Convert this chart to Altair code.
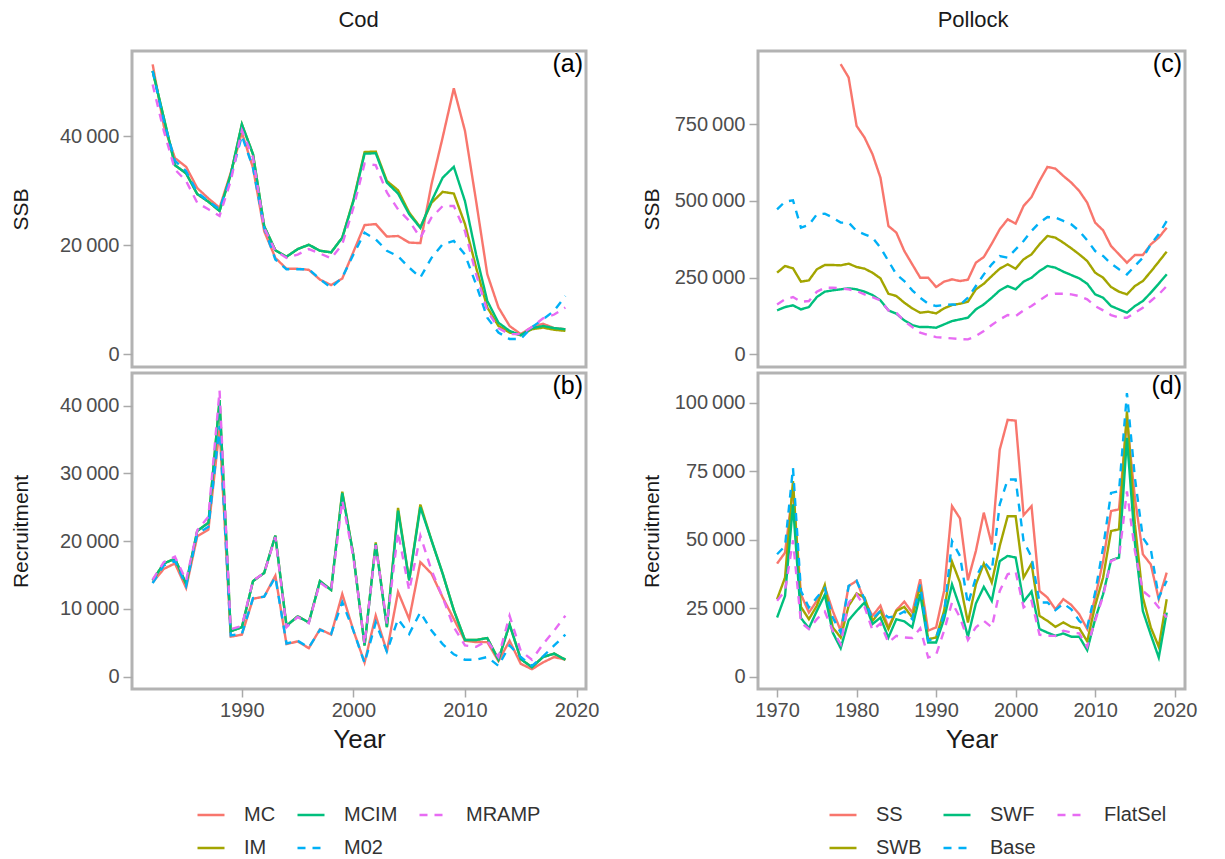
import altair as alt
import pandas as pd

# ---------------- data ----------------
cod_years = list(range(1982, 2020))
pol_years = list(range(1970, 2020))
pol_ss_ssb_years = list(range(1978, 2020))

cod_models = ["MC", "IM", "MCIM", "M02", "MRAMP"]
pol_models = ["SS", "SWB", "SWF", "Base", "FlatSel"]

# Cod SSB
cod_ssb_MC = [53200, 41900, 36000, 34400, 30500, 28600, 26900, 33300, 40700, 34200, 22600, 17700, 15700, 15700, 15500, 13700, 12700, 13900, 18800, 23700, 23900, 21600, 21700, 20500, 20400, 31200, 39800, 48800, 41000, 28100, 14700, 8600, 5200, 3700, 5000, 5600, 4800, 4600]
cod_ssb_IM = [52000, 43400, 34700, 33200, 29400, 28000, 26300, 33000, 42200, 36700, 23500, 19100, 17900, 19300, 20100, 19000, 18700, 21400, 28300, 37100, 37200, 31800, 30100, 26000, 23300, 27800, 29800, 29500, 23900, 15900, 8600, 5200, 4000, 3500, 4600, 4900, 4500, 4300]
cod_ssb_MCIM = [52000, 43400, 34700, 33200, 29400, 28000, 26300, 33000, 42200, 36700, 23500, 19100, 17900, 19300, 20100, 19000, 18700, 21400, 28100, 36800, 36900, 31500, 29500, 25700, 23200, 28100, 32400, 34400, 28100, 18300, 9800, 5800, 4300, 3500, 4800, 5200, 4800, 4600]
cod_ssb_M02 = [52000, 42800, 35500, 33600, 29700, 28100, 26600, 32400, 40100, 34200, 23200, 17400, 15600, 15600, 15600, 13800, 12200, 14100, 18300, 22300, 21100, 19000, 18000, 15900, 14100, 17700, 20200, 20800, 18300, 12800, 6700, 4000, 2800, 2800, 5000, 6400, 8000, 10700]
cod_ssb_MRAMP = [49500, 41000, 33900, 31800, 27800, 26600, 25400, 31800, 41100, 36100, 23200, 19000, 17700, 18300, 19300, 18500, 17600, 20200, 26900, 35000, 34700, 29700, 26600, 24500, 21400, 25100, 27200, 27200, 22600, 14700, 8000, 4800, 3700, 3700, 5000, 6600, 7300, 8600]

# Cod recruitment
cod_rec_MC = [13900, 15900, 16700, 13100, 20700, 21700, 36600, 5900, 6200, 11500, 11800, 14900, 4800, 5200, 4200, 7000, 6200, 12200, 6800, 2100, 9000, 3700, 12500, 8500, 16900, 15200, 11700, 8500, 5300, 5100, 5100, 2300, 5300, 1900, 1100, 2100, 2900, 2500]
cod_rec_IM = [14200, 16700, 17400, 13700, 21500, 22700, 40800, 6700, 7300, 14100, 15300, 20800, 7500, 8900, 8000, 14100, 12800, 27300, 17900, 4600, 19800, 7300, 24900, 14200, 25400, 20100, 15200, 9800, 5400, 5400, 5700, 2500, 7700, 2600, 1400, 2900, 3400, 2500]
cod_rec_MCIM = [14200, 16700, 17400, 13700, 21500, 22700, 40800, 6700, 7300, 14100, 15300, 20800, 7500, 8900, 8000, 14100, 12800, 27100, 17900, 4600, 19600, 7300, 24500, 14200, 25000, 20100, 15200, 9800, 5400, 5400, 5700, 2500, 7700, 2600, 1400, 2900, 3400, 2500]
cod_rec_M02 = [13800, 16400, 17100, 13400, 21100, 22100, 37000, 6100, 6300, 11600, 11800, 14700, 4900, 5300, 4300, 6900, 6300, 11000, 6800, 2000, 8000, 3700, 8500, 6300, 9500, 6800, 4800, 3300, 2500, 2500, 2900, 1600, 4600, 2900, 1600, 3000, 4600, 6200]
cod_rec_MRAMP = [14300, 16900, 17700, 14200, 21600, 23600, 42200, 7000, 7500, 14200, 15300, 20600, 7300, 8800, 7900, 13900, 12700, 26000, 17600, 4800, 19400, 7800, 21300, 12700, 20800, 15700, 11700, 7300, 4600, 4400, 5300, 2900, 9000, 3800, 2500, 4800, 6800, 9000]

# Pollock SSB (SS starts 1978)
pol_ssb_SS = [945700, 902200, 744600, 706600, 652200, 576100, 418500, 396800, 337000, 293500, 250000, 250000, 219600, 237000, 244600, 239100, 243500, 298900, 317400, 360900, 407600, 440200, 426100, 483700, 513000, 565200, 610900, 605400, 581500, 559800, 532600, 494500, 429300, 404300, 353200, 326000, 298900, 323900, 323900, 358700, 380400, 413000]
pol_ssb_SWB = [266300, 288100, 280400, 237000, 241300, 277200, 291300, 291300, 290200, 295700, 284800, 279400, 266300, 247800, 197800, 190200, 168500, 150000, 135900, 139100, 133700, 150000, 160900, 165200, 171700, 212000, 230400, 255400, 279400, 293500, 279400, 309800, 326100, 358700, 385900, 380500, 364100, 345700, 326100, 304400, 266300, 250000, 219600, 204400, 195700, 222800, 239100, 269600, 302200, 334800]
pol_ssb_SWF = [143500, 154400, 159800, 146700, 154400, 187000, 204400, 208700, 212000, 215200, 212000, 204400, 193500, 176100, 143500, 132600, 110900, 95700, 89100, 89100, 87000, 97800, 108700, 114100, 119600, 146700, 163000, 184800, 208700, 222800, 212000, 237000, 250000, 271800, 288100, 282600, 269600, 258700, 247800, 230400, 195700, 184800, 157600, 146700, 135900, 157600, 173900, 201100, 230400, 260900]
pol_ssb_Base = [472800, 497800, 502200, 413000, 421800, 456500, 458700, 445700, 429400, 429400, 402200, 391300, 380500, 347800, 304400, 260900, 239100, 208700, 184800, 165200, 157600, 160900, 163000, 160900, 184800, 222800, 260900, 293500, 320700, 315200, 342400, 369600, 402200, 429400, 447800, 445700, 434800, 423900, 402200, 371800, 337000, 320700, 295700, 277200, 260900, 288100, 315200, 358700, 391300, 434800]
pol_ssb_FlatSel = [163000, 179400, 187000, 171700, 173900, 204400, 217400, 217400, 215200, 212000, 206500, 195700, 187000, 176100, 143500, 135900, 108700, 89100, 70700, 63000, 56500, 54400, 52200, 50000, 48900, 59800, 76100, 95700, 114100, 128300, 125000, 143500, 157600, 176100, 193500, 197800, 197800, 195700, 190200, 179400, 157600, 143500, 128300, 119600, 119600, 135900, 152200, 173900, 195700, 222800]

# Pollock recruitment
pol_rec_SS = [41300, 45300, 68700, 30100, 23400, 27700, 32800, 24000, 16800, 33100, 35000, 27700, 22200, 25900, 18000, 24300, 27400, 23400, 35600, 16800, 18000, 31300, 62300, 57800, 35200, 45900, 59900, 48300, 82900, 93800, 93500, 59000, 62300, 31300, 28900, 24600, 28300, 26200, 22800, 17400, 28900, 42200, 60500, 61100, 93800, 65300, 44700, 41000, 28300, 38000]
pol_rec_SWB = [28300, 36200, 71400, 25500, 21000, 25900, 33500, 18000, 14300, 25900, 30400, 28900, 20400, 24000, 17400, 24000, 25500, 21600, 33100, 13700, 14300, 24000, 42000, 34400, 19800, 33700, 41300, 34400, 47700, 58600, 58600, 36200, 41300, 22200, 20400, 18200, 19800, 18200, 17700, 12900, 25900, 36200, 53200, 53800, 96900, 55600, 28900, 18000, 10900, 28300]
pol_rec_SWF = [21600, 29500, 62900, 21400, 17700, 24000, 29900, 16100, 10400, 20600, 24000, 27100, 19200, 21600, 14300, 21000, 20200, 18000, 30100, 12500, 12500, 21000, 33700, 25300, 14600, 26700, 32800, 27700, 42200, 44100, 43500, 27400, 31100, 17400, 16100, 14900, 15800, 14600, 14600, 9700, 21000, 30100, 42500, 43500, 87200, 48900, 24000, 15300, 7000, 23400]
pol_rec_Base = [44700, 47700, 76200, 31300, 25300, 28900, 32300, 21600, 16100, 33100, 35000, 28300, 21000, 24000, 21600, 22200, 23800, 21000, 33700, 13100, 14300, 22800, 49500, 44100, 26500, 36200, 42000, 38600, 62900, 72000, 72000, 49500, 43700, 27100, 27100, 24300, 26700, 24600, 20400, 18000, 30700, 47100, 67100, 67700, 103600, 72600, 50700, 46500, 28900, 35000]
pol_rec_FlatSel = [27700, 31300, 49800, 19800, 17400, 21000, 23800, 16800, 11900, 27100, 30100, 25500, 17000, 19400, 12500, 14900, 14300, 14100, 17700, 7000, 8000, 16800, 27100, 21600, 13400, 18000, 20400, 18000, 31300, 37400, 38400, 25300, 27700, 15300, 14900, 14900, 16800, 16100, 15800, 10900, 20400, 29500, 42200, 43500, 67700, 45900, 31300, 28900, 25300, 21600]

cod_xticks = [1990, 2000, 2010, 2020]
pol_xticks = [1970, 1980, 1990, 2000, 2010, 2020]
cod_ssb_ticks = [0, 20000, 40000]
cod_rec_ticks = [0, 10000, 20000, 30000, 40000]
pol_ssb_ticks = [0, 250000, 500000, 750000]
pol_rec_ticks = [0, 25000, 50000, 75000, 100000]

# ---------------- styling ----------------
FONT = "Liberation Sans"
COLORS = ["#F8766D", "#A3A500", "#00BF7D", "#00B0F6", "#E76BF3"]
DASHES = [[1, 0], [1, 0], [1, 0], [8, 7], [8, 7]]
LEGEND_ORDER = [0, 2, 4, 1, 3]   # column-major fill of a 3x2 legend
SEP = "\u2009"
LBL = ("datum.value >= 1000 ? format(floor(datum.value/1000), 'd') + '" + SEP +
       "' + format(datum.value % 1000, '03d') : format(datum.value, 'd')")


def frame(models, series, years_list):
    rows = []
    for m, vals, yrs in zip(models, series, years_list):
        for y, v in zip(yrs, vals):
            rows.append({"year": y, "value": v, "model": m})
    return pd.DataFrame(rows)


def panel(df, models, xdom, ydom, yticks, xticks, tag, ytitle, w, h, bottom, legend_x, ytitle_pad):
    dom = [models[i] for i in LEGEND_ORDER]
    crange = [COLORS[i] for i in LEGEND_ORDER]
    drange = [DASHES[i] for i in LEGEND_ORDER]
    if bottom:
        leg = alt.Legend(title=None, orient="none", legendX=legend_x, legendY=427,
                         columns=3, direction="horizontal", symbolType="stroke",
                         symbolSize=729, symbolStrokeWidth=2.6, labelFontSize=20,
                         labelFont=FONT, labelColor="#333333", labelOffset=18,
                         columnPadding=16, rowPadding=8, padding=0)
        xaxis = alt.Axis(values=xticks, format="d", title="Year", titleFontSize=26,
                         titlePadding=6, labelFlush=False, tickSize=8, labelPadding=3)
    else:
        leg = None
        xaxis = None
    lines = alt.Chart(df).mark_line(strokeWidth=2.4, clip=True).encode(
        x=alt.X("year:Q", scale=alt.Scale(domain=xdom, nice=False, zero=False), axis=xaxis),
        y=alt.Y("value:Q", scale=alt.Scale(domain=ydom, nice=False, zero=False),
                axis=alt.Axis(values=yticks, title=ytitle, labelExpr=LBL, tickSize=9,
                              labelPadding=4, titlePadding=ytitle_pad)),
        color=alt.Color("model:N", scale=alt.Scale(domain=dom, range=crange), legend=leg),
        strokeDash=alt.StrokeDash("model:N", scale=alt.Scale(domain=dom, range=drange), legend=leg),
    )
    tag_df = pd.DataFrame({"tag": [tag]})
    text = alt.Chart(tag_df).mark_text(align="right", baseline="top", fontSize=25,
                                       font=FONT, color="black").encode(
        text="tag:N", x=alt.value(w - 3), y=alt.value(1))
    return alt.layer(lines, text).properties(width=w, height=h)


cod_ssb_df = frame(cod_models, [cod_ssb_MC, cod_ssb_IM, cod_ssb_MCIM, cod_ssb_M02, cod_ssb_MRAMP], [cod_years] * 5)
cod_rec_df = frame(cod_models, [cod_rec_MC, cod_rec_IM, cod_rec_MCIM, cod_rec_M02, cod_rec_MRAMP], [cod_years] * 5)
pol_ssb_df = frame(pol_models, [pol_ssb_SS, pol_ssb_SWB, pol_ssb_SWF, pol_ssb_Base, pol_ssb_FlatSel],
                   [pol_ss_ssb_years] + [pol_years] * 4)
pol_rec_df = frame(pol_models, [pol_rec_SS, pol_rec_SWB, pol_rec_SWF, pol_rec_Base, pol_rec_FlatSel], [pol_years] * 5)

CW, PW, H = 454, 427, 316
cod_x = [1980.15, 2020.85]
pol_x = [1967.6, 2021.3]

cod_top = panel(cod_ssb_df, cod_models, cod_x, [-2330, 55650], cod_ssb_ticks, cod_xticks, "(a)", "SSB", CW, H, False, 0, 28)
cod_bot = panel(cod_rec_df, cod_models, cod_x, [-1820, 44800], cod_rec_ticks, cod_xticks, "(b)", "Recruitment", CW, H, True, 64, 28)
pol_top = panel(pol_ssb_df, pol_models, pol_x, [-41000, 988600], pol_ssb_ticks, pol_xticks, "(c)", "SSB", PW, H, False, 0, 12)
pol_bot = panel(pol_rec_df, pol_models, pol_x, [-4500, 110900], pol_rec_ticks, pol_xticks, "(d)", "Recruitment", PW, H, True, 70, 12)


def column(top, bot, name):
    return alt.vconcat(top, bot, spacing=2).resolve_scale(
        color="independent", strokeDash="independent", y="independent"
    ).properties(title=alt.TitleParams(name, fontSize=22, font=FONT, fontWeight="normal",
                                       color="#1A1A1A", anchor="middle", offset=18, dx=54))


chart = alt.hconcat(
    column(cod_top, cod_bot, "Cod"), column(pol_top, pol_bot, "Pollock"), spacing=38
).resolve_scale(
    color="independent", strokeDash="independent"
).properties(
    padding={"left": 8, "top": 8, "right": 5, "bottom": 5}, background="white"
).configure(
    font=FONT
).configure_view(
    stroke="#B3B3B3", strokeWidth=3
).configure_axis(
    grid=False, domain=False, labelFont=FONT, labelFontSize=20, labelColor="#4D4D4D",
    tickColor="#AAAAAA", tickWidth=1.5, titleFont=FONT, titleFontSize=21,
    titleFontWeight="normal", titleColor="#1A1A1A"
)

chart.save("out.html", embed_options={"renderer": "svg", "actions": False})
